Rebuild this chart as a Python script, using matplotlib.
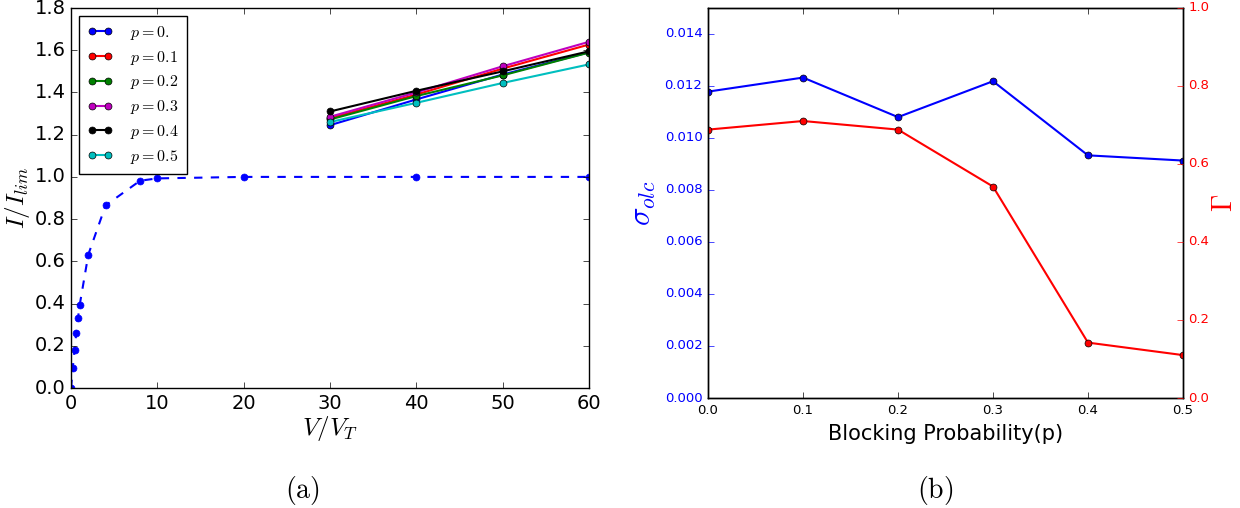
import numpy as np
import matplotlib
matplotlib.use("Agg")
import matplotlib.pyplot as plt

# (a) current vs voltage
v_curve = [0, 0.2, 0.4, 0.6, 0.8, 1.0, 2, 4, 8, 10, 20, 40, 60]
i_curve = [0.0, 0.095, 0.181, 0.259, 0.330, 0.393, 0.632, 0.865, 0.982, 0.993, 1.0, 1.0, 1.0]

v_high = [30, 40, 50, 60]
p_labels = ['$p=0.$', '$p=0.1$', '$p=0.2$', '$p=0.3$', '$p=0.4$', '$p=0.5$']
p_colors = ['b', 'r', 'g', 'm', 'k', 'c']
i_high = [
    [1.245, 1.367, 1.485, 1.590],
    [1.278, 1.390, 1.513, 1.627],
    [1.272, 1.383, 1.481, 1.589],
    [1.285, 1.400, 1.524, 1.640],
    [1.310, 1.408, 1.500, 1.595],
    [1.260, 1.351, 1.445, 1.533],
]

# (b) sigma and gamma vs blocking probability
p_block = [0.0, 0.1, 0.2, 0.3, 0.4, 0.5]
sigma_olc = [0.01178, 0.01232, 0.01080, 0.01218, 0.00933, 0.00913]
gamma = [0.688, 0.710, 0.688, 0.542, 0.142, 0.110]

plt.style.use('classic')
plt.rcParams['figure.facecolor'] = 'white'
plt.rcParams['savefig.facecolor'] = 'white'
plt.rcParams['mathtext.fontset'] = 'cm'

fig = plt.figure(figsize=(12.4, 5.08), dpi=100)

# ---- left panel
ax1 = fig.add_axes([0.0573, 0.2362, 0.4177, 0.748])
ax1.plot(v_curve, i_curve, '--o', color='b', lw=1.5, ms=5, mec='b')
for lab, col, vals in zip(p_labels, p_colors, i_high):
    ax1.plot(v_high, vals, '-o', color=col, lw=1.5, ms=5, mec='k', mew=0.5, label=lab)
ax1.set_xlim(0, 60)
ax1.set_ylim(0, 1.8)
ax1.set_xticks(np.arange(0, 61, 10))
ax1.set_yticks(np.arange(0, 1.81, 0.2))
ax1.tick_params(labelsize=14)
ax1.set_xlabel('$V/V_T$', fontsize=18, labelpad=1)
ax1.set_ylabel('$I/I_{lim}$', fontsize=18, labelpad=2)
ax1.legend(loc='upper left', fontsize=11.5, numpoints=2, handlelength=1.6,
           labelspacing=0.42, borderpad=0.5, handletextpad=1.1)

# ---- right panel
ax2 = fig.add_axes([0.571, 0.2165, 0.383, 0.768])
ax2.plot(p_block, sigma_olc, '-o', color='b', lw=1.5, ms=5, mec='k', mew=0.5)
ax2.set_xlim(0, 0.5)
ax2.set_ylim(0, 0.015)
ax2.set_yticks(np.arange(0, 0.0141, 0.002))
ax2.yaxis.set_major_formatter(matplotlib.ticker.FormatStrFormatter('%.3f'))
ax2.tick_params(axis='x', labelsize=9.5)
ax2.tick_params(axis='y', labelsize=9.5, colors='b')
ax2.set_xlabel('Blocking Probability(p)', fontsize=15)
ax2.set_ylabel(r'$\sigma_{olc}$', fontsize=22, color='b')

ax3 = ax2.twinx()
ax3.plot(p_block, gamma, '-o', color='r', lw=1.5, ms=5, mec='k', mew=0.5)
ax3.set_xlim(0, 0.5)
ax3.set_ylim(0, 1.0)
ax3.set_yticks(np.arange(0, 1.01, 0.2))
ax3.tick_params(axis='y', labelsize=9.5, colors='r')
ax3.set_ylabel(r'$\Gamma$', fontsize=20, color='r', labelpad=0)

fig.text(0.244, 0.02, r'$\mathrm{(a)}$', fontsize=20, ha='center')
fig.text(0.754, 0.02, r'$\mathrm{(b)}$', fontsize=20, ha='center')

fig.savefig('out.png', dpi=100)
